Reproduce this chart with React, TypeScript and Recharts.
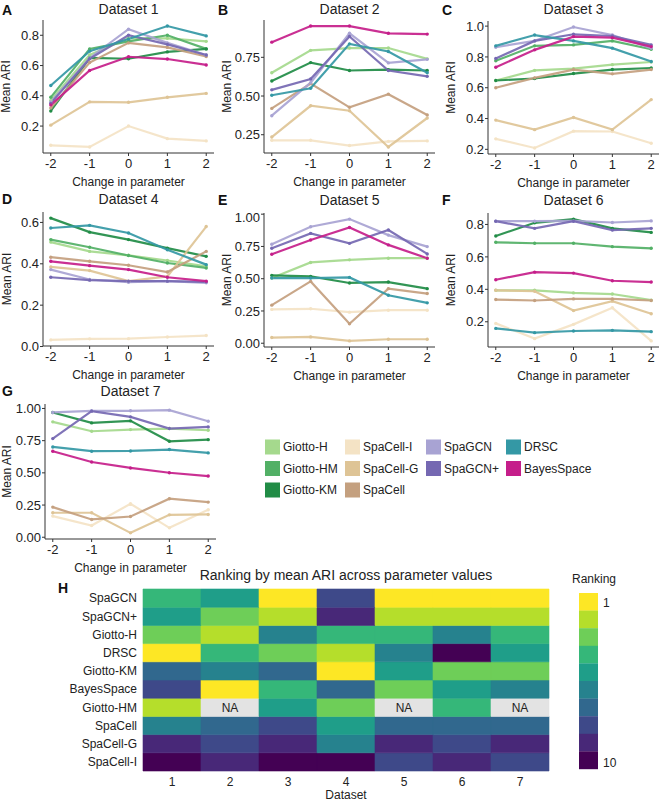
import { LineChart, Line, XAxis, YAxis, BarChart, Bar, Cell, LabelList } from 'recharts'

const PARAM_CHANGES = [-2, -1, 0, 1, 2]

const METHODS = ['Giotto-H', 'Giotto-HM', 'Giotto-KM', 'SpaCell-I', 'SpaCell-G', 'SpaCell', 'SpaGCN', 'SpaGCN+', 'DRSC', 'BayesSpace']
const METHOD_COLORS = ['#a5d98d', '#52b066', '#218c46', '#f4e3c5', '#dec496', '#c4a07f', '#a8a3d3', '#7568b2', '#3498a5', '#c51e8a']

// mean ARI at parameter change -2 .. 2 (Giotto-HM was not run on datasets 2, 5, 7)
const DATASET_1: Record<string, number[]> = {
  'Giotto-H': [0.37, 0.67, 0.78, 0.78, 0.76],
  'Giotto-HM': [0.39, 0.71, 0.76, 0.80, 0.71],
  'Giotto-KM': [0.30, 0.65, 0.645, 0.69, 0.71],
  'SpaCell-I': [0.073, 0.062, 0.20, 0.117, 0.102],
  'SpaCell-G': [0.206, 0.36, 0.357, 0.39, 0.416],
  'SpaCell': [0.32, 0.62, 0.75, 0.72, 0.66],
  'SpaGCN': [0.36, 0.65, 0.84, 0.75, 0.67],
  'SpaGCN+': [0.35, 0.645, 0.80, 0.74, 0.67],
  'DRSC': [0.468, 0.695, 0.775, 0.861, 0.796],
  'BayesSpace': [0.34, 0.567, 0.658, 0.643, 0.604],
}
const DATASET_2: Record<string, number[]> = {
  'Giotto-H': [0.65, 0.795, 0.81, 0.81, 0.74],
  'Giotto-KM': [0.597, 0.716, 0.665, 0.67, 0.665],
  'SpaCell-I': [0.214, 0.214, 0.18, 0.207, 0.21],
  'SpaCell-G': [0.235, 0.437, 0.405, 0.171, 0.358],
  'SpaCell': [0.42, 0.58, 0.427, 0.512, 0.378],
  'SpaGCN': [0.373, 0.586, 0.905, 0.714, 0.737],
  'SpaGCN+': [0.54, 0.61, 0.885, 0.665, 0.627],
  'DRSC': [0.505, 0.55, 0.837, 0.788, 0.65],
  'BayesSpace': [0.848, 0.952, 0.952, 0.905, 0.90],
}
const DATASET_3: Record<string, number[]> = {
  'Giotto-H': [0.647, 0.713, 0.724, 0.75, 0.767],
  'Giotto-HM': [0.775, 0.872, 0.878, 0.904, 0.85],
  'Giotto-KM': [0.647, 0.66, 0.692, 0.718, 0.728],
  'SpaCell-I': [0.268, 0.209, 0.318, 0.316, 0.24],
  'SpaCell-G': [0.39, 0.328, 0.407, 0.328, 0.523],
  'SpaCell': [0.60, 0.664, 0.718, 0.69, 0.718],
  'SpaGCN': [0.863, 0.904, 0.994, 0.942, 0.857],
  'SpaGCN+': [0.79, 0.904, 0.947, 0.936, 0.878],
  'DRSC': [0.872, 0.942, 0.904, 0.857, 0.77],
  'BayesSpace': [0.733, 0.846, 0.932, 0.925, 0.867],
}
const DATASET_4: Record<string, number[]> = {
  'Giotto-H': [0.505, 0.46, 0.441, 0.416, 0.388],
  'Giotto-HM': [0.517, 0.48, 0.44, 0.404, 0.38],
  'Giotto-KM': [0.621, 0.553, 0.517, 0.476, 0.436],
  'SpaCell-I': [0.032, 0.037, 0.038, 0.046, 0.053],
  'SpaCell-G': [0.385, 0.367, 0.316, 0.339, 0.58],
  'SpaCell': [0.432, 0.412, 0.393, 0.36, 0.46],
  'SpaGCN': [0.372, 0.324, 0.311, 0.316, 0.308],
  'SpaGCN+': [0.335, 0.321, 0.316, 0.316, 0.313],
  'DRSC': [0.573, 0.586, 0.549, 0.468, 0.396],
  'BayesSpace': [0.412, 0.391, 0.372, 0.335, 0.316],
}
const DATASET_5: Record<string, number[]> = {
  'Giotto-H': [0.505, 0.626, 0.646, 0.659, 0.659],
  'Giotto-KM': [0.526, 0.518, 0.467, 0.474, 0.423],
  'SpaCell-I': [0.262, 0.267, 0.241, 0.256, 0.256],
  'SpaCell-G': [0.044, 0.049, 0.018, 0.031, 0.031],
  'SpaCell': [0.295, 0.479, 0.151, 0.423, 0.385],
  'SpaGCN': [0.767, 0.903, 0.962, 0.838, 0.749],
  'SpaGCN+': [0.736, 0.851, 0.774, 0.877, 0.692],
  'DRSC': [0.505, 0.505, 0.51, 0.372, 0.313],
  'BayesSpace': [0.69, 0.80, 0.897, 0.762, 0.659],
}
const DATASET_6: Record<string, number[]> = {
  'Giotto-H': [0.394, 0.394, 0.378, 0.371, 0.333],
  'Giotto-HM': [0.69, 0.684, 0.684, 0.663, 0.653],
  'Giotto-KM': [0.729, 0.81, 0.833, 0.776, 0.751],
  'SpaCell-I': [0.19, 0.096, 0.184, 0.286, 0.082],
  'SpaCell-G': [0.394, 0.388, 0.269, 0.327, 0.249],
  'SpaCell': [0.337, 0.331, 0.341, 0.341, 0.331],
  'SpaGCN': [0.82, 0.82, 0.822, 0.812, 0.822],
  'SpaGCN+': [0.82, 0.776, 0.82, 0.765, 0.776],
  'DRSC': [0.159, 0.133, 0.143, 0.147, 0.139],
  'BayesSpace': [0.459, 0.506, 0.50, 0.453, 0.445],
}
const DATASET_7: Record<string, number[]> = {
  'Giotto-H': [0.896, 0.823, 0.836, 0.844, 0.831],
  'Giotto-KM': [0.969, 0.888, 0.904, 0.745, 0.758],
  'SpaCell-I': [0.164, 0.091, 0.26, 0.073, 0.213],
  'SpaCell-G': [0.19, 0.19, 0.034, 0.174, 0.177],
  'SpaCell': [0.234, 0.138, 0.161, 0.299, 0.273],
  'SpaGCN': [0.969, 0.982, 0.982, 0.987, 0.901],
  'SpaGCN+': [0.766, 0.979, 0.935, 0.844, 0.857],
  'DRSC': [0.701, 0.668, 0.67, 0.681, 0.655],
  'BayesSpace': [0.668, 0.584, 0.538, 0.501, 0.475],
}

const PANELS = [
  { letter: 'A', title: 'Dataset 1', data: DATASET_1, ticks: [0.2, 0.4, 0.6, 0.8], digits: 1 },
  { letter: 'B', title: 'Dataset 2', data: DATASET_2, ticks: [0.25, 0.5, 0.75], digits: 2 },
  { letter: 'C', title: 'Dataset 3', data: DATASET_3, ticks: [0.2, 0.4, 0.6, 0.8, 1.0], digits: 1 },
  { letter: 'D', title: 'Dataset 4', data: DATASET_4, ticks: [0, 0.2, 0.4, 0.6], digits: 1 },
  { letter: 'E', title: 'Dataset 5', data: DATASET_5, ticks: [0, 0.25, 0.5, 0.75, 1], digits: 2 },
  { letter: 'F', title: 'Dataset 6', data: DATASET_6, ticks: [0.2, 0.4, 0.6, 0.8], digits: 1 },
  { letter: 'G', title: 'Dataset 7', data: DATASET_7, ticks: [0, 0.25, 0.5, 0.75, 1], digits: 2 },
]

// heatmap: rank (1 = best) of each method per dataset, null = not run
const DATASET_LABELS = ['1', '2', '3', '4', '5', '6', '7']
const RANK_ROWS = ['SpaGCN', 'SpaGCN+', 'Giotto-H', 'DRSC', 'Giotto-KM', 'BayesSpace', 'Giotto-HM', 'SpaCell', 'SpaCell-G', 'SpaCell-I']
const RANKS: (number | null)[][] = [
  [4, 5, 1, 8, 1, 1, 1],
  [5, 3, 2, 9, 2, 2, 2],
  [3, 2, 6, 4, 4, 6, 4],
  [1, 4, 3, 2, 6, 10, 5],
  [7, 6, 7, 1, 5, 3, 3],
  [8, 1, 4, 7, 3, 5, 6],
  [2, null, 5, 3, null, 4, null],
  [6, 7, 8, 5, 7, 7, 7],
  [9, 8, 9, 6, 9, 8, 9],
  [10, 9, 10, 10, 8, 9, 8],
]
const VIRIDIS = ['#fde725', '#b5de2b', '#6ece58', '#35b779', '#1f9e89', '#26828e', '#31688e', '#3e4989', '#482878', '#440154']

const LEGEND_COLUMNS = [
  ['Giotto-H', 'Giotto-HM', 'Giotto-KM'],
  ['SpaCell-I', 'SpaCell-G', 'SpaCell'],
  ['SpaGCN', 'SpaGCN+'],
  ['DRSC', 'BayesSpace'],
]

// plot rectangles on the page (l = y axis x, t/b = top/bottom), yl = distance of y title from axis
const POS = [
  { l: 43, t: 20, b: 153, yl: 37 },
  { l: 264, t: 20, b: 153, yl: 37 },
  { l: 488, t: 21, b: 154, yl: 37 },
  { l: 43, t: 212, b: 346, yl: 36 },
  { l: 264, t: 213, b: 347, yl: 37 },
  { l: 488, t: 213, b: 347, yl: 37 },
  { l: 45, t: 404, b: 539, yl: 38 },
]
const PLOT_W = 171
const AXIS_W = 45
const INK = '#222'
const colorOf = (m: string) => METHOD_COLORS[METHODS.indexOf(m)]

function Panel({ cfg, pos }: any) {
  const rows = PARAM_CHANGES.map((x, i) => {
    const r: any = { x }
    for (const m of Object.keys(cfg.data)) r[m] = cfg.data[m][i]
    return r
  })
  const all = (Object.values(cfg.data) as number[][]).flat()
  const lo = Math.min(...all), hi = Math.max(...all), pad = (hi - lo) * 0.05
  return (
    <div style={{ position: 'absolute', left: pos.l - AXIS_W, top: pos.t - 4 }}>
      <LineChart width={PLOT_W + AXIS_W + 4} height={pos.b - pos.t + 40} data={rows} margin={{ top: 4, right: 4, bottom: 0, left: 0 }}>
        <XAxis dataKey="x" type="number" domain={[-2.2, 2.2]} allowDataOverflow ticks={PARAM_CHANGES} height={36}
          tickSize={3} tickMargin={3} stroke="#333" tick={{ fill: INK, fontSize: 13 }}
          label={{ value: 'Change in parameter', position: 'insideBottom', offset: 3, fill: INK, fontSize: 12 }} />
        <YAxis type="number" domain={[lo - pad, hi + pad]} allowDataOverflow ticks={cfg.ticks} width={AXIS_W}
          tickFormatter={(v: number) => v.toFixed(cfg.digits)} tickSize={3} tickMargin={1} stroke="#333"
          tick={{ fill: INK, fontSize: 13 }}
          label={{ value: 'Mean ARI', angle: -90, position: 'insideLeft', offset: AXIS_W - pos.yl, fill: INK, fontSize: 12, style: { textAnchor: 'middle' } }} />
        {METHODS.filter(m => cfg.data[m]).map(m => (
          <Line key={m} dataKey={m} type="linear" stroke={colorOf(m)} strokeWidth={2.2} strokeOpacity={0.92}
            dot={{ r: 1.7, fill: colorOf(m), stroke: colorOf(m), strokeWidth: 0 }} activeDot={false} isAnimationActive={false} />
        ))}
      </LineChart>
    </div>
  )
}

function Heatmap() {
  const data = DATASET_LABELS.map(d => {
    const r: any = { dataset: d }
    for (const m of RANK_ROWS) r[m] = 1
    return r
  })
  const bottomUp = [...RANK_ROWS].reverse()
  const ticks = RANK_ROWS.map((_, i) => i + 0.5)
  return (
    <div style={{ position: 'absolute', left: 0, top: 560 }}>
      <BarChart width={666} height={241} data={data} margin={{ top: 29, right: 117, bottom: 0, left: 0 }} barCategoryGap={0} barGap={0}>
        <XAxis dataKey="dataset" height={30} tickSize={0} tickMargin={6} axisLine={false} tickLine={false}
          tick={{ fill: INK, fontSize: 12 }} interval={0}
          label={{ value: 'Dataset', position: 'insideBottom', offset: 2, fill: INK, fontSize: 12 }} />
        <YAxis type="number" domain={[0, 10]} ticks={ticks} width={143} tickSize={0} tickMargin={6} interval={0}
          axisLine={false} tickLine={false} tick={{ fill: INK, fontSize: 12 }}
          tickFormatter={(v: number) => bottomUp[Math.floor(v)]} />
        {bottomUp.map(m => {
          const ri = RANK_ROWS.indexOf(m)
          return (
            <Bar key={m} dataKey={m} stackId="h" isAnimationActive={false}>
              {RANKS[ri].map((rk, j) => {
                const fill = rk == null ? '#e3e3e3' : VIRIDIS[rk - 1]
                return <Cell key={j} fill={fill} stroke={fill} strokeWidth={0.6} />
              })}
              <LabelList dataKey={m} content={(p: any) => {
                if (RANKS[ri][p.index] != null) return null
                const vb = p.viewBox ?? p
                const x = (p.x ?? vb.x) + (p.width ?? vb.width) / 2
                const y = (p.y ?? vb.y) + (p.height ?? vb.height) / 2
                return <text x={x} y={y} dy="0.35em" textAnchor="middle" fontSize={12} fill={INK}>NA</text>
              }} />
            </Bar>
          )
        })}
      </BarChart>
    </div>
  )
}

function Overlay() {
  return (
    <svg width={666} height={801} style={{ position: 'absolute', left: 0, top: 0, pointerEvents: 'none' }}>
      {PANELS.map((p, i) => {
        const pos = POS[i]
        const lx = pos.l < 100 ? 2 : pos.l - 46
        return (
          <g key={p.letter}>
            <text x={lx} y={Math.max(pos.t - 8, 15)} fontSize={14} fontWeight="bold" fill="#111">{p.letter}</text>
            <text x={pos.l + PLOT_W / 2} y={Math.max(pos.t - 8, 14)} fontSize={14} textAnchor="middle" fill={INK}>{p.title}</text>
          </g>
        )
      })}
      <text x={58} y={593} fontSize={14} fontWeight="bold" fill="#111">H</text>
      <text x={346} y={580} fontSize={14} textAnchor="middle" fill={INK}>Ranking by mean ARI across parameter values</text>
      <text x={572} y={583} fontSize={12} fill={INK}>Ranking</text>
      {VIRIDIS.map((c, i) => (
        <rect key={c} x={579} y={593 + i * 17.6} width={19} height={17.8} fill={c} />
      ))}
      <text x={603} y={607} fontSize={12} fill={INK}>1</text>
      <text x={603} y={767} fontSize={12} fill={INK}>10</text>
      {LEGEND_COLUMNS.map((col, ci) => col.map((m, ri) => {
        const x = [265, 345, 426, 506][ci]
        const cy = 447 + ri * 21.5
        return (
          <g key={m}>
            <rect x={x} y={cy - 7.5} width={15} height={15} fill={colorOf(m)} />
            <text x={x + 18} y={cy} dy="0.35em" fontSize={12} fill={INK}>{m}</text>
          </g>
        )
      }))}
    </svg>
  )
}

export default function App() {
  return (
    <div style={{ position: 'absolute', left: 0, top: 0, width: 666, height: 801, background: '#fff', fontFamily: '"Liberation Sans", Arial, sans-serif' }}>
      {PANELS.map((p, i) => <Panel key={p.letter} cfg={p} pos={POS[i]} />)}
      <Heatmap />
      <Overlay />
    </div>
  )
}
